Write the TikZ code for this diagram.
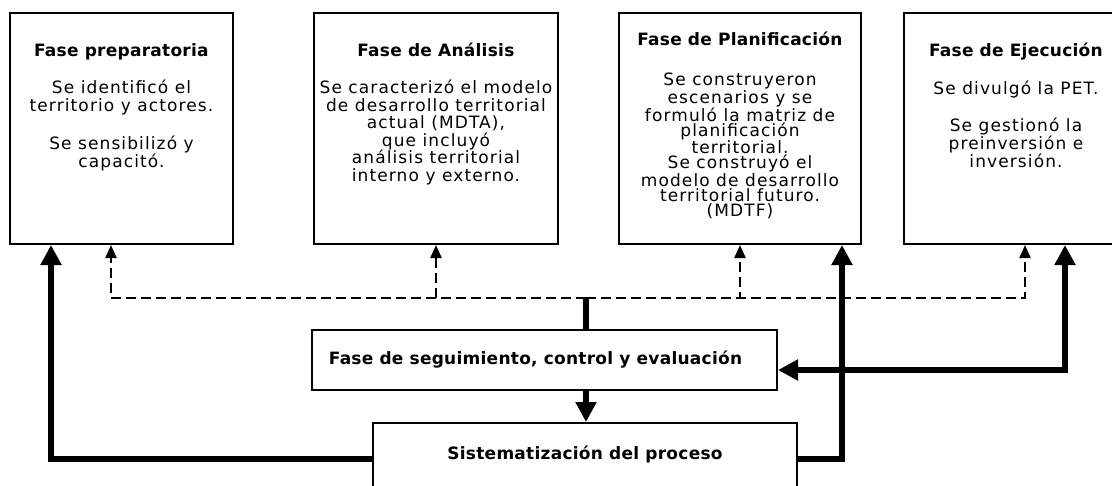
\documentclass[tikz,border=0pt]{standalone}
\usepackage{fontspec}
\setmainfont{DejaVu Sans}[LetterSpace=6.5,BoldFeatures={LetterSpace=1.5}]
\usetikzlibrary{arrows.meta,positioning}

\tikzset{
    phase/.style={draw, line width=2pt, minimum width=#1, minimum height=231pt, inner sep=0pt},
    phasetext/.style={align=center, inner sep=0pt, font=\fontsize{17}{17.5}\selectfont},
    flowbox/.style={draw, line width=2pt, font=\bfseries\fontsize{17}{17.5}\selectfont},
    dsh/.style={line width=2pt, dash pattern=on 10pt off 5pt, -{Triangle[width=11pt,length=13pt]}},
    thk/.style={line width=6.5pt},
    thkarrow/.style={thk, -{Triangle[width=20pt,length=20pt]}},
    thkboth/.style={thk, {Triangle[width=20pt,length=20pt]}-{Triangle[width=20pt,length=20pt]}}
}

\begin{document}
\begin{tikzpicture}[x=1pt,y=-1pt]
\useasboundingbox (0,0) rectangle (1112,485);

% the four phases
\node[phase=223pt] (prep) at (121.5,128.5) {};
\node[phase=244pt, right=79pt of prep] (anal) {};
\node[phase=242pt, right=59pt of anal] (plan) {};
\node[phase=224pt, right=41pt of plan] (ejec) {};

\node[phasetext, font=\fontsize{17}{18}\selectfont, below=31pt of prep.north] (prep-t) {
    \textbf{Fase preparatoria}\\[19pt]
    Se identificó el\\
    territorio y actores.\\[20pt]
    Se sensibilizó y\\
    capacitó.};

\node[phasetext, below=31pt of anal.north] (anal-t) {
    \textbf{Fase de Análisis}\\[19.5pt]
    Se caracterizó el modelo\\
    de desarrollo territorial\\
    actual (MDTA),\\
    que incluyó\\
    análisis territorial\\
    interno y externo.};

\node[phasetext, font=\fontsize{17}{15}\selectfont, below=20pt of plan.north] (plan-t) {
    \textbf{Fase de Planificación}\\[25pt]
    Se construyeron\\
    escenarios y se\\
    formuló la matriz de\\
    planificación\\
    territorial.\\
    Se construyó el\\
    modelo de desarrollo\\
    territorial futuro.\\
    (MDTF)};

\node[phasetext, font=\fontsize{17}{18}\selectfont, below=31pt of ejec.north] (ejec-t) {
    \textbf{Fase de Ejecución}\\[20pt]
    Se divulgó la PET.\\[19pt]
    Se gestionó la\\
    preinversión e\\
    inversión.};

% follow-up and systematization
\node[flowbox, minimum width=465pt, minimum height=60pt] (seg) at (544.5,360)
    {Fase de seguimiento, control y evaluación\kern18pt};
\node[flowbox, minimum width=424pt, text height=24pt, text depth=30pt, inner ysep=12pt, anchor=north] (sist) at (585,422)
    {Sistematización del proceso};

\coordinate (hub) at (586,298);

% dashed feedback
\draw[dsh] (hub) -| ([xshift=-10.5pt]prep.south);
\draw[dsh] (hub) -| (anal.south);
\draw[dsh] (hub) -| (plan.south);
\draw[dsh] (hub) -| ([xshift=9pt]ejec.south);

% thick flow
\draw[thk] (hub |- seg.north) -- (hub);
\draw[thkarrow] (hub |- seg.south) -- (hub |- sist.north);
\draw[thkarrow] (sist.base west) -| ([xshift=-70.5pt]prep.south);
\draw[thkarrow] (sist.base east) -| ([xshift=102pt]plan.south);
\draw[thkboth] ([xshift=49pt]ejec.south) |- ([yshift=-10pt]seg.east);

\end{tikzpicture}
\end{document}
